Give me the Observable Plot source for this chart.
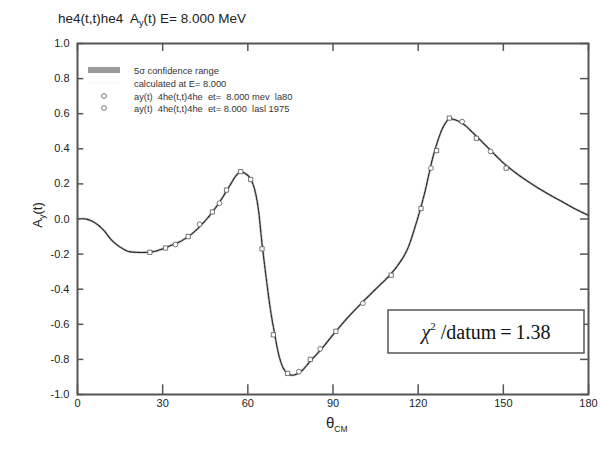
<!DOCTYPE html>
<html>
<head>
<meta charset="utf-8">
<script src="https://cdn.jsdelivr.net/npm/d3@7"></script>
<script src="https://cdn.jsdelivr.net/npm/@observablehq/plot@0.6"></script>
<style>
  html, body { margin: 0; padding: 0; background: #fff; }
  #chart svg { display: block; }
</style>
</head>
<body>
<div id="chart"></div>
<script>
// ---- data ----
const xTicks = [0, 30, 60, 90, 120, 150, 180];
const yTicks = [-1.0, -0.8, -0.6, -0.4, -0.2, 0.0, 0.2, 0.4, 0.6, 0.8, 1.0];

const curveTheta = [0, 3, 6, 9, 12, 15, 18, 21, 24, 27, 30, 33, 36, 39, 42, 45, 48, 51, 54, 56, 57.5, 59, 60.5, 62, 63.5, 65, 66.5, 68, 69.5, 71, 72.5, 74, 75.5, 77, 79, 82, 86, 90, 95, 100, 105, 110, 113, 116, 119, 122, 125, 127, 129, 131, 133, 136, 140, 145, 150, 155, 160, 165, 170, 175, 180];
const curveAy = [0.0, 0.0, -0.02, -0.06, -0.12, -0.16, -0.185, -0.19, -0.19, -0.185, -0.17, -0.15, -0.13, -0.10, -0.06, -0.01, 0.05, 0.12, 0.20, 0.25, 0.27, 0.26, 0.24, 0.19, 0.08, -0.14, -0.34, -0.52, -0.66, -0.78, -0.85, -0.88, -0.89, -0.885, -0.865, -0.81, -0.74, -0.66, -0.565, -0.48, -0.40, -0.32, -0.26, -0.18, -0.04, 0.13, 0.34, 0.45, 0.53, 0.57, 0.565, 0.54, 0.48, 0.40, 0.32, 0.255, 0.20, 0.15, 0.105, 0.06, 0.02];

const la80Theta = [25.5, 31, 39, 47.5, 52.5, 57.5, 61, 65, 69, 74, 82, 91, 110.5, 121, 126.5, 131, 140.5, 151];
const la80Ay    = [-0.19, -0.165, -0.10, 0.04, 0.165, 0.27, 0.225, -0.17, -0.66, -0.88, -0.80, -0.64, -0.32, 0.06, 0.39, 0.575, 0.46, 0.29];

const lasl1975Theta = [34.5, 43, 50, 78, 85.5, 100.5, 124.5, 135.5, 145.5];
const lasl1975Ay    = [-0.145, -0.03, 0.09, -0.87, -0.74, -0.48, 0.29, 0.555, 0.385];

const legendLines = [
  "5\u03c3 confidence range",
  "calculated at E= 8.000",
  "ay(t)  4he(t,t)4he  et=  8.000 mev  la80",
  "ay(t)  4he(t,t)4he  et= 8.000  lasl 1975"
];

// ---- tables ----
const curve = curveTheta.map((t, i) => ({theta: t, ay: curveAy[i]}));
const s1 = la80Theta.map((t, i) => ({theta: t, ay: la80Ay[i]}));
const s2 = lasl1975Theta.map((t, i) => ({theta: t, ay: lasl1975Ay[i]}));

const FONT = "'Liberation Sans', Arial, Helvetica, sans-serif";
const axisColor = "#555";

const chart = Plot.plot({
  width: 600,
  height: 452,
  marginLeft: 77,
  marginRight: 12,
  marginTop: 43,
  marginBottom: 58,
  style: {fontFamily: FONT, fontSize: "11px", color: "#222", background: "#fff"},
  x: {domain: [0, 180], label: null},
  y: {domain: [-1, 1], label: null},
  marks: [
    // tick labels
    Plot.axisX({ticks: xTicks, tickSize: 0, tickPadding: 5, tickFormat: d => String(d), fontSize: 11, label: null}),
    Plot.axisY({ticks: yTicks, tickSize: 0, tickPadding: 8, tickFormat: d => d.toFixed(1), fontSize: 11, label: null}),
    // inward ticks
    Plot.ruleX(xTicks, {y1: -1, y2: -0.945, stroke: axisColor, strokeWidth: 1.5}),
    Plot.ruleX(xTicks, {y1: 1, y2: 0.955, stroke: axisColor, strokeWidth: 1.5}),
    Plot.ruleY(yTicks, {x1: 0, x2: 2.2, stroke: axisColor, strokeWidth: 1.5}),
    Plot.ruleY(yTicks, {x1: 177.2, x2: 180, stroke: axisColor, strokeWidth: 1.5}),
    // curve
    Plot.line(curve, {x: "theta", y: "ay", curve: "catmull-rom", stroke: "#c4c4c4", strokeWidth: 2.4}),
    Plot.line(curve, {x: "theta", y: "ay", curve: "catmull-rom", stroke: "#222", strokeWidth: 1.1, strokeDasharray: "3.5 1"}),
    // data
    Plot.dot(s1, {x: "theta", y: "ay", symbol: "square", r: 2.4, stroke: "#555", strokeWidth: 0.8, fill: "white"}),
    Plot.dot(s2, {x: "theta", y: "ay", symbol: "circle", r: 2.4, stroke: "#555", strokeWidth: 0.8, fill: "white"}),
    Plot.frame({stroke: axisColor, strokeWidth: 2})
  ]
});

document.getElementById("chart").appendChild(chart);

// ---- annotations (texts with sub/superscripts, legend, chi-square box) ----
const svg = d3.select(chart);

// title
const t = svg.append("text")
  .attr("x", 58).attr("y", 23).attr("text-anchor", "start")
  .attr("font-family", FONT).attr("font-size", 13.5).attr("fill", "#222");
t.append("tspan").text("he4(t,t)he4  A");
t.append("tspan").attr("font-size", 9).attr("dy", 3).text("y");
t.append("tspan").attr("dy", -3).text("(t) E= 8.000 MeV");

// y label
const yl = svg.append("text")
  .attr("transform", "translate(42,215) rotate(-90)")
  .attr("text-anchor", "middle")
  .attr("font-family", FONT).attr("font-size", 13).attr("fill", "#222");
yl.append("tspan").text("A");
yl.append("tspan").attr("font-size", 9).attr("dy", 3).text("y");
yl.append("tspan").attr("dy", -3).text("(t)");

// x label
const xl = svg.append("text")
  .attr("x", 326).attr("y", 428).attr("text-anchor", "start")
  .attr("font-family", FONT).attr("font-size", 15).attr("fill", "#222");
xl.append("tspan").text("\u03b8");
xl.append("tspan").attr("font-size", 8.5).attr("dy", 4).text("CM");

// legend
const lg = svg.append("g").attr("font-family", FONT).attr("font-size", 9.3).attr("fill", "#333").attr("text-anchor", "start");
lg.append("rect").attr("x", 88).attr("y", 67).attr("width", 32).attr("height", 6).attr("fill", "#9a9a9a");
lg.append("line").attr("x1", 88).attr("x2", 120).attr("y1", 83).attr("y2", 83).attr("stroke", "#f4f4f4");
lg.append("circle").attr("cx", 104).attr("cy", 96).attr("r", 2.4).attr("fill", "white").attr("stroke", "#555").attr("stroke-width", 0.8);
lg.append("circle").attr("cx", 104).attr("cy", 108).attr("r", 2.4).attr("fill", "white").attr("stroke", "#555").attr("stroke-width", 0.8);
const ly = [73.5, 86.5, 99.5, 111.5];
legendLines.forEach((s, i) => {
  lg.append("text").attr("x", 134).attr("y", ly[i]).text(s);
});

// chi-square box
const cb = svg.append("g");
cb.append("rect").attr("x", 388).attr("y", 310).attr("width", 196).attr("height", 43)
  .attr("fill", "white").attr("stroke", "#555").attr("stroke-width", 1.5);
const ct = cb.append("text").attr("x", 486).attr("y", 339).attr("text-anchor", "middle")
  .attr("font-family", "'Liberation Serif', 'Times New Roman', serif").attr("font-size", 20).attr("fill", "#111");
ct.append("tspan").attr("font-style", "italic").attr("fill", "#1a1a2a").text("\u03c7");
ct.append("tspan").attr("font-size", 11).attr("dy", -9).text("2");
ct.append("tspan").attr("dy", 9).text(" /datum\u2009=\u20091.38");
</script>
</body>
</html>
